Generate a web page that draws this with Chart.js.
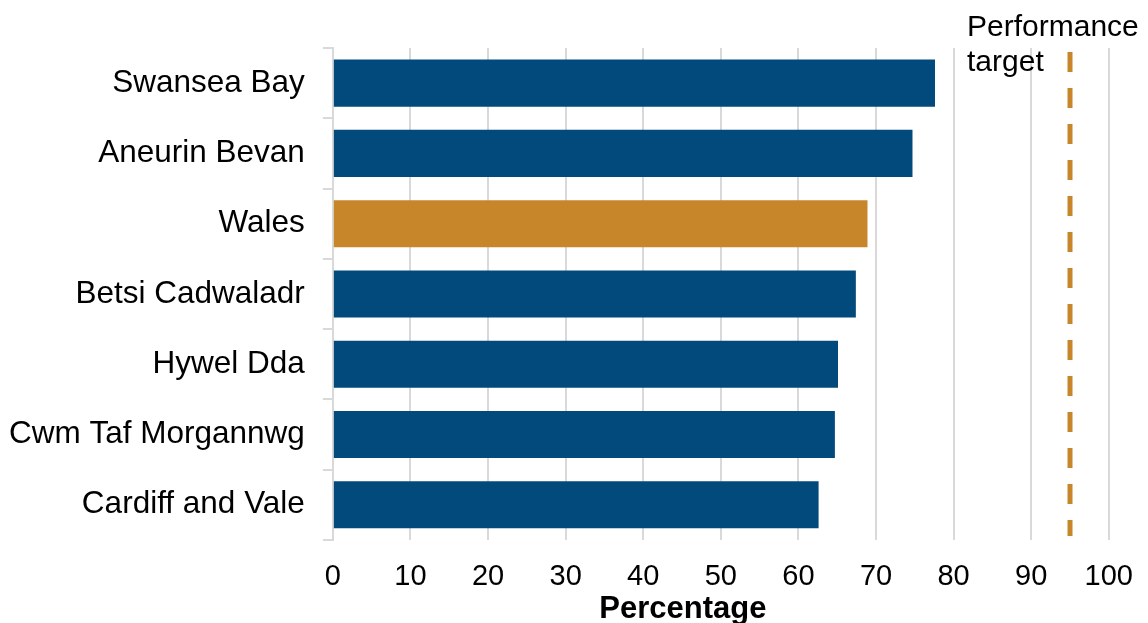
<!DOCTYPE html>
<html>
<head>
<meta charset="utf-8">
<script src="https://cdn.jsdelivr.net/npm/chart.js@4"></script>
<style>
  html, body { margin: 0; padding: 0; background: #fff; }
  #wrap { width: 1148px; height: 623px; }
</style>
</head>
<body>
<div id="wrap"><canvas id="myChart"></canvas></div>
<script>
const COLORS = {
    navy: '#034a7c',
    orange: '#c8862a',
    grid: '#d9d9d9',
    text: '#000000'
};

const healthBoards = ['Swansea Bay', 'Aneurin Bevan', 'Wales', 'Betsi Cadwaladr', 'Hywel Dda', 'Cwm Taf Morgannwg', 'Cardiff and Vale'];
const percentValues = [77.6, 74.7, 68.9, 67.4, 65.1, 64.7, 62.6];
const targetValue = 95;
const targetLabel = ['Performance', 'target'];
const axisTitle = 'Percentage';

// Wales is highlighted in orange, health boards in navy
const barColors = healthBoards.map(n => n === 'Wales' ? COLORS.orange : COLORS.navy);

Chart.defaults.font.family = '"Liberation Sans", Arial, sans-serif';
Chart.defaults.color = COLORS.text;

const targetLine = {
    id: 'targetLine',
    afterDatasetsDraw(chart) {
        const ctx = chart.ctx;
        const x = chart.scales.x.getPixelForValue(targetValue);
        const area = chart.chartArea;
        ctx.save();
        ctx.strokeStyle = COLORS.orange;
        ctx.lineWidth = 5;
        ctx.setLineDash([20, 16]);
        ctx.beginPath();
        ctx.moveTo(x, area.top + 4);
        ctx.lineTo(x, area.bottom - 4);
        ctx.stroke();
        ctx.setLineDash([]);
        ctx.fillStyle = COLORS.text;
        ctx.font = '30px "Liberation Sans", Arial, sans-serif';
        ctx.textAlign = 'left';
        ctx.textBaseline = 'middle';
        ctx.fillText(targetLabel[0], x - 103, 28);
        ctx.fillText(targetLabel[1], x - 103, 63);
        // x axis title sits a bit left of the plot centre in the original
        ctx.font = 'bold 31px "Liberation Sans", Arial, sans-serif';
        ctx.textAlign = 'center';
        ctx.fillText(axisTitle, (area.left + area.right) / 2 - 38, 609);
        ctx.restore();
    }
};

new Chart(document.getElementById('myChart').getContext('2d'), {
    type: 'bar',
    data: {
        labels: healthBoards,
        datasets: [{
            data: percentValues,
            backgroundColor: barColors,
            barPercentage: 0.67,
            categoryPercentage: 1
        }]
    },
    options: {
        indexAxis: 'y',
        responsive: true,
        maintainAspectRatio: false,
        animation: false,
        layout: {
            padding: { top: 48, right: 39, left: -9, bottom: 9 }
        },
        plugins: {
            legend: { display: false },
            tooltip: { enabled: false }
        },
        scales: {
            x: {
                min: 0,
                max: 100,
                ticks: {
                    stepSize: 10,
                    padding: 15,
                    font: { size: 29, lineHeight: 1.52 }
                },
                grid: {
                    color: COLORS.grid,
                    lineWidth: 2,
                    drawTicks: false
                },
                border: { display: false }
            },
            y: {
                ticks: {
                    padding: 18,
                    font: { size: 31.5 }
                },
                grid: {
                    drawOnChartArea: false,
                    color: COLORS.grid,
                    lineWidth: 2,
                    tickLength: 10
                },
                border: { color: COLORS.grid, width: 2 }
            }
        }
    },
    plugins: [targetLine]
});
</script>
</body>
</html>
